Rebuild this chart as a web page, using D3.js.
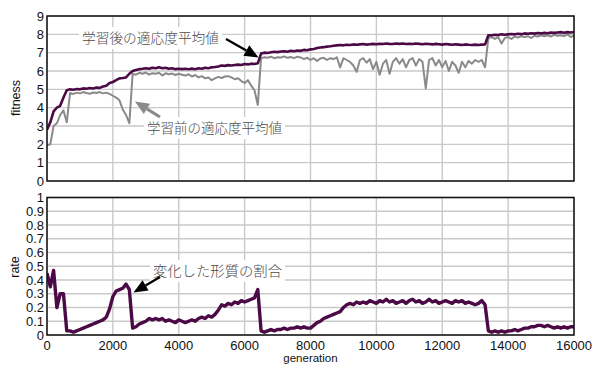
<!DOCTYPE html>
<html>
<head>
<meta charset="utf-8">
<script src="https://cdn.jsdelivr.net/npm/d3@7/dist/d3.min.js"></script>
<style>
  html, body { margin: 0; padding: 0; background: #fff; }
  svg { display: block; }
  .tick-label { font-family: "Liberation Sans", Arial, sans-serif; font-size: 13px; fill: #111; }
  .axis-title { font-family: "Liberation Sans", Arial, sans-serif; font-size: 12.5px; fill: #111; }
  .x-title { font-family: "Liberation Sans", Arial, sans-serif; font-size: 11.5px; fill: #111; }
  .note { font-family: "Noto Sans CJK JP", sans-serif; font-size: 13.6px; font-weight: 300; fill: #4a4a4a; }
</style>
</head>
<body>
<svg id="chart" width="594" height="365"></svg>
<script>
// generation sampled every 100 steps
const generations = d3.range(0, 16001, 100);

// mean fitness after learning
const fitnessAfter = [
  2.8, 3.2, 3.8, 4.0, 4.1, 4.55, 4.95, 5.0, 4.98, 5.02,
  5.0, 5.05, 5.03, 5.07, 5.05, 5.1, 5.08, 5.15, 5.2, 5.35,
  5.4, 5.5, 5.6, 5.62, 5.65, 5.85, 6.0, 6.05, 6.1, 6.12,
  6.15, 6.12, 6.18, 6.15, 6.2, 6.15, 6.18, 6.12, 6.15, 6.1,
  6.12, 6.1, 6.12, 6.1, 6.13, 6.1, 6.15, 6.12, 6.18, 6.15,
  6.2, 6.22, 6.25, 6.3, 6.28, 6.32, 6.3, 6.33, 6.35, 6.33,
  6.38, 6.36, 6.4, 6.38, 6.42, 6.95, 7.0, 6.98, 7.02, 7.05,
  7.03, 7.06, 7.08, 7.05, 7.1, 7.08, 7.12, 7.1, 7.15, 7.13,
  7.18, 7.2, 7.25, 7.28, 7.3, 7.33, 7.35, 7.38, 7.4, 7.42,
  7.4, 7.43, 7.42, 7.45, 7.43, 7.45, 7.47, 7.44, 7.46, 7.48,
  7.46, 7.48, 7.47, 7.5, 7.48, 7.47, 7.5, 7.48, 7.5, 7.47,
  7.49, 7.47, 7.5, 7.48, 7.46, 7.49, 7.47, 7.45, 7.48, 7.46,
  7.44, 7.47, 7.45, 7.43, 7.46, 7.44, 7.42, 7.45, 7.43, 7.42,
  7.44, 7.42, 7.44, 7.45, 7.95, 7.95, 7.98, 7.96, 8.0, 7.98,
  8.0, 8.02, 8.0, 8.03, 8.01, 8.05, 8.03, 8.06, 8.04, 8.07,
  8.05, 8.08, 8.06, 8.1, 8.08, 8.1, 8.12, 8.09, 8.12, 8.1,
  8.13
];

// mean fitness before learning
const fitnessBefore = [
  1.95, 2.0, 3.0, 3.15, 3.6, 3.85, 3.2, 4.8, 4.75, 4.82,
  4.78, 4.85, 4.8, 4.76, 4.83, 4.8, 4.85, 4.78, 4.82, 4.75,
  4.65, 4.55, 4.4, 3.9, 3.6, 3.15, 5.85, 5.8, 5.9, 5.85,
  5.92, 5.8, 5.88, 5.85, 5.9, 5.75, 5.88, 5.82, 5.86, 5.78,
  5.85, 5.8, 5.75, 5.82, 5.7, 5.78, 5.65, 5.72, 5.6, 5.65,
  5.5, 5.6, 5.68, 5.62, 5.7, 5.72, 5.65, 5.55, 5.6, 5.45,
  5.35, 5.5, 5.2, 4.95, 4.15, 6.7, 6.75, 6.72, 6.78, 6.7,
  6.75, 6.73, 6.8, 6.72, 6.76, 6.7, 6.78, 6.74, 6.65, 6.72,
  6.6, 6.7, 6.55, 6.68, 6.72, 6.6, 6.7, 6.65, 6.75, 6.2,
  6.7, 6.6, 6.5, 6.3, 5.95, 6.6, 6.7, 6.45, 6.65, 6.1,
  6.5, 5.8, 6.4, 6.6, 5.85, 6.5, 6.7, 6.4, 6.65, 6.2,
  6.6, 6.7, 6.3, 6.65, 6.5, 5.05, 6.6, 6.7, 6.3, 6.6,
  6.2, 6.55, 6.0, 6.5, 6.3, 5.9, 6.5, 6.2, 6.55, 6.4,
  6.6, 6.5, 6.6, 6.2, 7.8, 7.85, 7.75, 7.85, 7.5, 7.8,
  7.85, 7.75, 7.88, 7.82, 7.9, 7.85, 7.9, 7.8, 7.92, 7.88,
  7.95, 7.9, 7.95, 7.88, 7.98, 7.92, 7.95, 7.9, 8.0, 7.85,
  7.95
];

// share of traits changed by learning
const changedRate = [
  0.45, 0.35, 0.47, 0.2, 0.3, 0.3, 0.03, 0.03, 0.02, 0.03,
  0.04, 0.05, 0.06, 0.07, 0.08, 0.09, 0.1, 0.11, 0.13, 0.19,
  0.28, 0.32, 0.33, 0.34, 0.37, 0.33, 0.05, 0.06, 0.08, 0.09,
  0.1, 0.12, 0.11, 0.12, 0.11, 0.12, 0.1, 0.11, 0.1, 0.09,
  0.11, 0.1, 0.09, 0.1, 0.11, 0.1, 0.12, 0.13, 0.12, 0.14,
  0.13, 0.15, 0.18, 0.22, 0.21, 0.23, 0.22, 0.24, 0.23, 0.25,
  0.24, 0.25, 0.26, 0.27, 0.33, 0.03, 0.02, 0.03, 0.04, 0.03,
  0.04, 0.04, 0.05, 0.04, 0.05, 0.05, 0.06, 0.05, 0.06, 0.05,
  0.05, 0.07, 0.09, 0.1, 0.12, 0.13, 0.14, 0.15, 0.16, 0.17,
  0.2, 0.22, 0.23, 0.22, 0.24, 0.23, 0.24, 0.23, 0.25, 0.24,
  0.23, 0.25, 0.24, 0.26, 0.24, 0.25, 0.23, 0.24, 0.25, 0.23,
  0.25, 0.26, 0.24, 0.25, 0.23, 0.24, 0.26, 0.24, 0.25, 0.23,
  0.24, 0.25, 0.24, 0.23, 0.25, 0.24, 0.25, 0.23, 0.24, 0.23,
  0.22, 0.23, 0.25, 0.22, 0.03, 0.02, 0.03, 0.02, 0.03, 0.02,
  0.03, 0.03, 0.04, 0.03, 0.04, 0.05, 0.05, 0.06, 0.06, 0.07,
  0.07, 0.06, 0.07, 0.06, 0.05, 0.06, 0.05, 0.06, 0.05, 0.06,
  0.06
];

const xTicks = [0, 2000, 4000, 6000, 8000, 10000, 12000, 14000, 16000];
const fitnessTicks = [0, 1, 2, 3, 4, 5, 6, 7, 8, 9];
const rateTicks = [0, 0.1, 0.2, 0.3, 0.4, 0.5, 0.6, 0.7, 0.8, 0.9, 1];

const labelAfter = "学習後の適応度平均値";
const labelBefore = "学習前の適応度平均値";
const labelRate = "変化した形質の割合";

const PURPLE = "#4b0a46";
const GRAY = "#8a8a8a";
const GRID = "#c9c9c9";

const svg = d3.select("#chart");
const left = 47, right = 574;

const x = d3.scaleLinear().domain([0, 16000]).range([left, right]);
const yFit = d3.scaleLinear().domain([0, 9]).range([181, 16]);
const yRate = d3.scaleLinear().domain([0, 1]).range([335, 197.5]);

function panel(y, ticks, fmt, id) {
  const g = svg.append("g");
  const [y0, y1] = y.range();
  // grid
  g.selectAll(null).data(ticks).join("line")
    .attr("x1", left).attr("x2", right)
    .attr("y1", d => y(d)).attr("y2", d => y(d))
    .attr("stroke", GRID).attr("stroke-width", 1.4);
  g.selectAll(null).data(xTicks).join("line")
    .attr("x1", d => x(d)).attr("x2", d => x(d))
    .attr("y1", y1).attr("y2", y0)
    .attr("stroke", GRID).attr("stroke-width", 1.4);
  // y tick labels
  g.selectAll(null).data(ticks).join("text")
    .attr("class", "tick-label")
    .attr("x", left - 3).attr("y", d => y(d))
    .attr("dy", "0.36em").attr("text-anchor", "end")
    .text(fmt);
  svg.append("clipPath").attr("id", id)
    .append("rect").attr("x", left).attr("y", y1)
    .attr("width", right - left).attr("height", y0 - y1);
  return g;
}

const gTop = panel(yFit, fitnessTicks, d => d, "clipTop");
const gBot = panel(yRate, rateTicks, d => d === 0 ? "0" : d === 1 ? "1" : d3.format(".1f")(d), "clipBot");

// labelled annotation box hiding the grid behind text
function note(g, text, cx, cy, w) {
  g.append("rect").attr("x", cx - 3).attr("y", cy - 11)
    .attr("width", w).attr("height", 22).attr("fill", "#fff");
  g.append("text").attr("class", "note")
    .attr("x", cx).attr("y", cy).attr("dy", "0.36em")
    .attr("textLength", w - 6).attr("lengthAdjust", "spacingAndGlyphs")
    .text(text);
}

note(gTop, labelAfter, 82, 38, 143);
note(gTop, labelBefore, 147, 128, 141);
note(gBot, labelRate, 153, 271, 135);

// series
const lineFit = d3.line().x((d, i) => x(generations[i])).y(d => yFit(d));
const lineRate = d3.line().x((d, i) => x(generations[i])).y(d => yRate(d));

gTop.append("path").datum(fitnessBefore)
  .attr("clip-path", "url(#clipTop)")
  .attr("d", lineFit).attr("fill", "none")
  .attr("stroke", GRAY).attr("stroke-width", 2).attr("stroke-linejoin", "round");
gTop.append("path").datum(fitnessAfter)
  .attr("clip-path", "url(#clipTop)")
  .attr("d", lineFit).attr("fill", "none")
  .attr("stroke", PURPLE).attr("stroke-width", 2.6).attr("stroke-linejoin", "round");
gBot.append("path").datum(changedRate)
  .attr("clip-path", "url(#clipBot)")
  .attr("d", lineRate).attr("fill", "none")
  .attr("stroke", PURPLE).attr("stroke-width", 3.4).attr("stroke-linejoin", "round");

// frames
[[yFit, gTop], [yRate, gBot]].forEach(([y, g]) => {
  const [y0, y1] = y.range();
  g.append("rect").attr("x", left).attr("y", y1)
    .attr("width", right - left).attr("height", y0 - y1)
    .attr("fill", "none").attr("stroke", "#111").attr("stroke-width", 1.5);
});

// arrows
function arrow(g, x1, y1, x2, y2, color, headLen, headW, lw) {
  const ang = Math.atan2(y2 - y1, x2 - x1);
  const bx = x2 - headLen * Math.cos(ang), by = y2 - headLen * Math.sin(ang);
  g.append("line").attr("x1", x1).attr("y1", y1).attr("x2", bx).attr("y2", by)
    .attr("stroke", color).attr("stroke-width", lw);
  const px = -Math.sin(ang) * headW / 2, py = Math.cos(ang) * headW / 2;
  g.append("path")
    .attr("d", `M${x2},${y2}L${bx + px},${by + py}L${bx - px},${by - py}Z`)
    .attr("fill", color);
}
arrow(gTop, 226, 39, 258.5, 57.5, "#000", 14, 12, 2.2);
arrow(gTop, 160, 117, 135, 101.5, GRAY, 14, 12, 3);
arrow(gBot, 160, 277, 133.5, 292.5, "#000", 14, 12, 2.2);

// x tick labels under the lower panel
svg.append("g").selectAll("text").data(xTicks).join("text")
  .attr("class", "tick-label")
  .attr("x", d => x(d)).attr("y", 345.5).attr("dy", "0.36em")
  .attr("text-anchor", "middle").text(d => d);

svg.append("text").attr("class", "x-title")
  .attr("x", (left + right) / 2).attr("y", 358).attr("dy", "0.36em")
  .attr("text-anchor", "middle").text("generation");

svg.append("text").attr("class", "axis-title")
  .attr("transform", "translate(15,98) rotate(-90)")
  .attr("text-anchor", "middle").attr("dy", "0.36em").text("fitness");
svg.append("text").attr("class", "axis-title")
  .attr("transform", "translate(14,267) rotate(-90)")
  .attr("text-anchor", "middle").attr("dy", "0.36em").text("rate");
</script>
</body>
</html>
